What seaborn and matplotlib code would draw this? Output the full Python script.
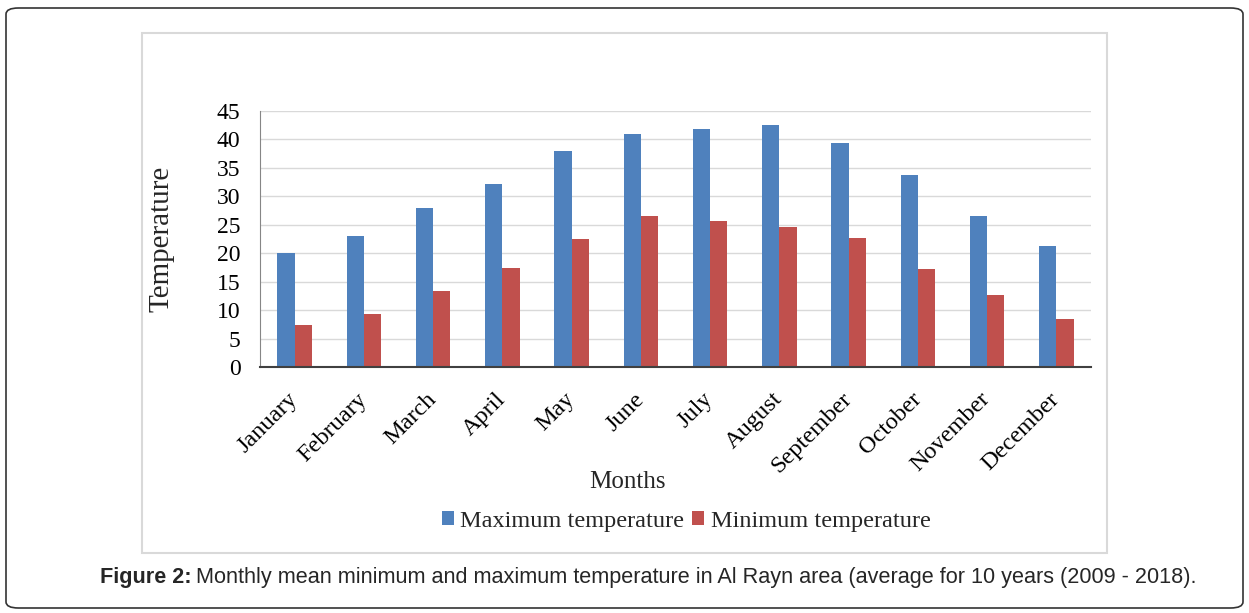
import pandas as pd
import seaborn as sns
import matplotlib.pyplot as plt
from matplotlib.patches import FancyBboxPatch, Rectangle

months = ['January', 'February', 'March', 'April', 'May', 'June', 'July',
          'August', 'September', 'October', 'November', 'December']
max_temp = [20.0, 23.1, 27.9, 32.1, 37.9, 41.0, 41.9, 42.6, 39.4, 33.8, 26.6, 21.3]
min_temp = [7.4, 9.3, 13.4, 17.4, 22.5, 26.6, 25.6, 24.6, 22.7, 17.2, 12.6, 8.4]
series = ['Maximum temperature', 'Minimum temperature']
colors = ['#4F81BD', '#C0504D']

df = pd.DataFrame({'month': months * 2,
                   'value': max_temp + min_temp,
                   'series': [series[0]] * 12 + [series[1]] * 12})

sns.set_style('white')
plt.rcParams['font.family'] = ['Liberation Serif', 'DejaVu Serif']

W, H = 1249, 613
fig = plt.figure(figsize=(W / 100, H / 100), dpi=100)

# outer rounded frame and inner chart frame
fig.patches.append(FancyBboxPatch((6 / W, 5 / H), 1237 / W, 600 / H,
                                  boxstyle='round,pad=0,rounding_size=0.01',
                                  transform=fig.transFigure, fill=False,
                                  edgecolor='#333333', linewidth=1.2))
fig.patches.append(Rectangle((142 / W, 1 - 553 / H), 965 / W, 520 / H,
                             transform=fig.transFigure, fill=False,
                             edgecolor='#D9D9D9', linewidth=1.5))

ax = fig.add_axes([260 / W, 1 - 367 / H, 831 / W, 256 / H])
_ = sns.barplot(data=df, x='month', y='value', hue='series', palette=colors,
                width=0.5, saturation=1, linewidth=0, ax=ax, legend=True)

ax.set_ylim(0, 45)
ax.set_yticks(range(0, 46, 5))
ax.set_xlim(-0.5, 11.5)
ax.yaxis.grid(True, color='#D9D9D9', linewidth=1)
ax.set_axisbelow(True)
for s in ['top', 'right']:
    ax.spines[s].set_visible(False)
ax.spines['left'].set_color('#868686')
ax.spines['bottom'].set_color('#404040')
ax.spines['bottom'].set_linewidth(1.5)
ax.tick_params(axis='both', length=0, labelsize=17, colors='black')
ax.tick_params(axis='y', pad=14)
ax.tick_params(axis='x', pad=21)
plt.setp(ax.get_xticklabels(), rotation=45, ha='right', va='center',
         rotation_mode='anchor', fontsize=17.5)
ax.set_xlabel('')
ax.set_ylabel('Temperature', fontsize=21)
ax.yaxis.set_label_coords(-0.103, 0.5)

fig.text(627 / W, 1 - 482 / H, 'Months', ha='center', va='center', fontsize=18)

handles, labels = ax.get_legend_handles_labels()
ax.get_legend().remove()
fig.legend(handles, labels, loc='center', bbox_to_anchor=(686 / W, 1 - 521 / H),
           ncol=2, frameon=False, fontsize=17.5, handlelength=0.5, handleheight=0.5,
           columnspacing=0.35, handletextpad=0.25)

# caption: bold lead-in followed by plain text
renderer = fig.canvas.get_renderer()
cap_y = 1 - 578 / H
t1 = fig.text(100 / W, cap_y, 'Figure 2:', ha='left', va='center', fontsize=15.6,
              fontweight='bold', family='Liberation Sans')
bb = t1.get_window_extent(renderer)
fig.text((bb.x1 + 5) / W, cap_y,
         'Monthly mean minimum and maximum temperature in Al Rayn area (average for 10 years (2009 - 2018).',
         ha='left', va='center', fontsize=15.6, family='Liberation Sans')

fig.savefig('out.png', dpi=100)
